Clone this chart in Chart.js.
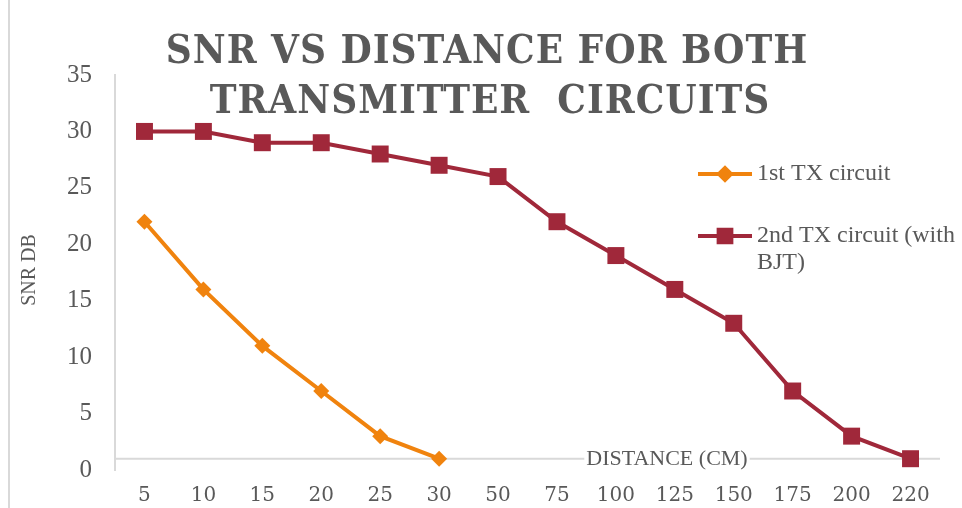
<!DOCTYPE html>
<html>
<head>
<meta charset="utf-8">
<script src="https://cdn.jsdelivr.net/npm/chart.js@4.4.1/dist/chart.umd.min.js"></script>
<style>
  html, body { margin: 0; padding: 0; background: #fff; }
  #wrap { width: 962px; height: 508px; position: relative; }
</style>
</head>
<body>
<div id="wrap"><canvas id="snrChart"></canvas></div>
<script>
// distance (cm) categories and SNR (dB) readings
const distances = ["5", "10", "15", "20", "25", "30", "50", "75", "100", "125", "150", "175", "200", "220"];
const tx1Snr = [22, 16, 11, 7, 3, 1];
const tx2Snr = [30, 30, 29, 29, 28, 27, 26, 22, 19, 16, 13, 7, 3, 1];
const titleLines = ["SNR VS DISTANCE FOR BOTH", "TRANSMITTER  CIRCUITS"];
const seriesNames = ["1st TX circuit", "2nd TX circuit (with BJT)"];

const TEXT = "#595959";
const ORANGE = "#F0830E";
const MAROON = "#A0283A";
const SERIF = "'Liberation Serif', serif";

// extra drawing: border, crossing axis line, axis titles, legend, chart title
const decor = {
  id: "decor",
  beforeDatasetsDraw(chart) {
    const ctx = chart.ctx, xs = chart.scales.x, ys = chart.scales.y;
    const yAxis = ys.getPixelForValue(1);
    ctx.save();
    ctx.strokeStyle = "#D9D9D9";
    ctx.lineWidth = 2;
    ctx.beginPath();
    ctx.moveTo(xs.left, yAxis);
    ctx.lineTo(xs.right, yAxis);
    ctx.stroke();

    // horizontal axis title sits on the axis line
    ctx.font = "22px " + SERIF;
    const t = "DISTANCE (CM)";
    const w = ctx.measureText(t).width;
    const cx = 667;
    ctx.fillStyle = "#fff";
    ctx.fillRect(cx - w / 2 - 2, yAxis - 12, w + 4, 24);
    ctx.fillStyle = TEXT;
    ctx.textAlign = "center";
    ctx.textBaseline = "middle";
    ctx.fillText(t, cx, yAxis + 1);
    ctx.restore();
  },
  afterDraw(chart) {
    const ctx = chart.ctx;
    ctx.save();
    // outer border on the left
    ctx.strokeStyle = "#D9D9D9";
    ctx.lineWidth = 2;
    ctx.beginPath();
    ctx.moveTo(9, 0);
    ctx.lineTo(9, 508);
    ctx.stroke();

    // vertical axis title
    ctx.fillStyle = TEXT;
    ctx.font = "20px " + SERIF;
    ctx.translate(30, 270);
    ctx.rotate(-Math.PI / 2);
    ctx.textAlign = "center";
    ctx.textBaseline = "middle";
    ctx.fillText("SNR DB", 0, 0);
    ctx.restore();

    // legend
    ctx.save();
    const ds = chart.data.datasets;
    const rows = [{ y: 174, lines: [seriesNames[0]] }, { y: 236, lines: ["2nd TX circuit (with", "BJT)"] }];
    rows.forEach((row, i) => {
      const d = ds[i];
      ctx.strokeStyle = d.borderColor;
      ctx.lineWidth = 4;
      ctx.beginPath();
      ctx.moveTo(698, row.y);
      ctx.lineTo(752, row.y);
      ctx.stroke();
      Chart.helpers.drawPoint(ctx, {
        pointStyle: d.pointStyle,
        radius: i === 0 ? 6 : 9,
        borderWidth: 1
      }, 725, row.y);
      ctx.fillStyle = d.backgroundColor;
      ctx.strokeStyle = d.borderColor;
      ctx.fill();
      ctx.fillStyle = TEXT;
      ctx.font = "24px " + SERIF;
      ctx.textAlign = "left";
      ctx.textBaseline = "middle";
      row.lines.forEach((ln, k) => ctx.fillText(ln, 757, row.y + k * 27));
    });
    ctx.restore();

    // chart title
    ctx.save();
    ctx.fillStyle = TEXT;
    ctx.font = "bold 40px 'DejaVu Serif Condensed', 'DejaVu Serif', serif";
    ctx.fontStretch = "condensed";
    ctx.textAlign = "center";
    ctx.textBaseline = "middle";
    ctx.letterSpacing = "1px";
    ctx.fillText(titleLines[0], 487, 53);
    ctx.fillText(titleLines[1], 490, 103);
    ctx.restore();
  }
};

const padded = tx1Snr.concat(Array(distances.length - tx1Snr.length).fill(null));

new Chart(document.getElementById("snrChart"), {
  type: "line",
  data: {
    labels: distances,
    datasets: [
      {
        label: seriesNames[0],
        data: padded,
        borderColor: ORANGE,
        backgroundColor: ORANGE,
        borderWidth: 4,
        pointStyle: "rectRot",
        pointRadius: 8,
        pointBorderWidth: 0,
        tension: 0,
        spanGaps: false
      },
      {
        label: seriesNames[1],
        data: tx2Snr,
        borderColor: MAROON,
        backgroundColor: MAROON,
        borderWidth: 4,
        pointStyle: "rect",
        pointRadius: 12,
        pointBorderWidth: 0,
        tension: 0
      }
    ]
  },
  options: {
    responsive: true,
    maintainAspectRatio: false,
    animation: false,
    layout: { padding: { top: 75, right: 22, left: 0, bottom: 0 } },
    plugins: {
      legend: { display: false },
      title: { display: false },
      tooltip: { enabled: false }
    },
    scales: {
      x: {
        offset: true,
        grid: { display: false, drawTicks: false },
        border: { display: false },
        ticks: {
          color: TEXT,
          font: { family: "'DejaVu Serif', serif", size: 20 },
          padding: 14,
          maxRotation: 0,
          autoSkip: false
        },
        afterFit(scale) { scale.height = 38; }
      },
      y: {
        min: 0,
        max: 35,
        grid: { display: false, drawTicks: false },
        border: { display: true, color: "#D9D9D9", width: 2 },
        ticks: {
          stepSize: 5,
          color: TEXT,
          font: { family: SERIF, size: 25 },
          padding: 23
        },
        afterFit(scale) { scale.width = 115; }
      }
    }
  },
  plugins: [decor]
});
</script>
</body>
</html>
